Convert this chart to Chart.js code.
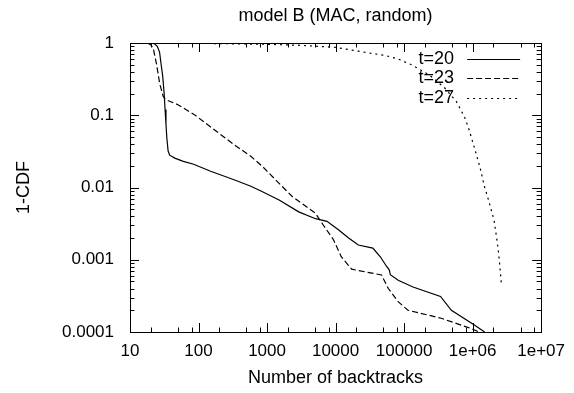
<!DOCTYPE html>
<html><head><meta charset="utf-8">
<script src="https://cdn.jsdelivr.net/npm/chart.js@4.4.0/dist/chart.umd.min.js"></script>
<style>html,body{margin:0;padding:0;background:#fff;} canvas{display:block;}</style>
</head><body>
<canvas id="c" width="574" height="393"></canvas>
<script>
const titleText = 'model B (MAC, random)';
const xAxisTitle = 'Number of backtracks';
const yAxisTitle = '1-CDF';
const seriesLabels = ['t=20', 't=23', 't=27'];
const xTickValues = [10, 100, 1000, 10000, 100000, 1e6, 1e7];
const xTickLabels = ['10', '100', '1000', '10000', '100000', '1e+06', '1e+07'];
const yTickValues = [0.0001, 0.001, 0.01, 0.1, 1];
const yTickLabels = ['0.0001', '0.001', '0.01', '0.1', '1'];

const t20X = [10, 20, 23, 25, 27, 28.5, 30, 31.5, 32.5, 33.5, 34.5, 36, 38, 45, 60, 85, 150, 330, 580, 800, 1500, 2900, 5100, 7500, 11000, 15500, 21500, 35000, 45000, 55000, 61000, 63000, 82000, 135000, 340000, 490000, 1.06e6, 1.5e6];
const t20Y = [1, 1, 0.97, 0.9, 0.75, 0.5, 0.35, 0.2, 0.12, 0.075, 0.048, 0.032, 0.028, 0.0255, 0.023, 0.021, 0.0168, 0.0128, 0.0104, 0.009, 0.0067, 0.0046, 0.0037, 0.0034, 0.0026, 0.002, 0.0016, 0.00145, 0.0011, 0.00082, 0.00072, 0.00062, 0.00052, 0.00042, 0.00031, 0.0002, 0.000125, 0.0001];

const t23X = [10, 18, 20, 21.8, 24.4, 27.2, 30.4, 33, 50, 87, 170, 333, 580, 855, 1340, 2000, 2330, 5080, 6350, 9360, 12100, 17200, 46900, 58600, 81800, 114000, 348000, 944000, 1.25e6];
const t23Y = [1, 1, 0.95, 0.85, 0.51, 0.27, 0.185, 0.165, 0.14, 0.102, 0.063, 0.039, 0.027, 0.0196, 0.0127, 0.0087, 0.0075, 0.0044, 0.0032, 0.00188, 0.0011, 0.00074, 0.000615, 0.000403, 0.000263, 0.0002, 0.000155, 0.000112, 0.0001];

const t27X = [10, 100, 1000, 3000, 10000, 21500, 54000, 82000, 128000, 235000, 390000, 580000, 760000, 880000, 1.12e6, 1.3e6, 1.48e6, 1.7e6, 2.06e6, 2.3e6, 2.45e6, 2.63e6];
const t27Y = [1, 0.99, 0.96, 0.93, 0.87, 0.77, 0.67, 0.6, 0.5, 0.36, 0.24, 0.155, 0.095, 0.065, 0.03, 0.018, 0.0105, 0.0068, 0.0035, 0.0017, 0.001, 0.00046];

const toPoints = (xs, ys) => xs.map((x, i) => ({x: x, y: ys[i]}));

const FONT = '"Liberation Sans", Arial, Helvetica, sans-serif';
Chart.defaults.font.family = FONT;
Chart.defaults.color = '#000';

const bgPlugin = {
  id: 'bg',
  beforeDraw(chart) {
    const ctx = chart.ctx;
    ctx.save();
    ctx.fillStyle = '#fff';
    ctx.fillRect(0, 0, chart.width, chart.height);
    ctx.restore();
  }
};

const framePlugin = {
  id: 'frame',
  afterDatasetsDraw(chart) {
    const ctx = chart.ctx;
    const a = chart.chartArea;
    const xs = chart.scales.x, ys = chart.scales.y;
    ctx.save();
    ctx.strokeStyle = '#000';
    ctx.lineWidth = 1;
    ctx.setLineDash([]);
    ctx.beginPath();
    // x ticks (major and minor at 2,5,8)
    xTickValues.forEach((v, i) => {
      const px = Math.round(xs.getPixelForValue(v)) + 0.5;
      ctx.moveTo(px, a.bottom); ctx.lineTo(px, a.bottom - 9);
      ctx.moveTo(px, a.top); ctx.lineTo(px, a.top + 9);
      if (i < xTickValues.length - 1) {
        [2, 5, 8].forEach(m => {
          const p = Math.round(xs.getPixelForValue(v * m)) + 0.5;
          ctx.moveTo(p, a.bottom); ctx.lineTo(p, a.bottom - 4.5);
          ctx.moveTo(p, a.top); ctx.lineTo(p, a.top + 4.5);
        });
      }
    });
    yTickValues.forEach((v, i) => {
      const py = Math.round(ys.getPixelForValue(v)) + 0.5;
      ctx.moveTo(a.left, py); ctx.lineTo(a.left + 9, py);
      ctx.moveTo(a.right, py); ctx.lineTo(a.right - 9, py);
      if (i < yTickValues.length - 1) {
        [2, 3, 4, 5, 6, 7, 8, 9].forEach(m => {
          const p = Math.round(ys.getPixelForValue(v * m)) + 0.5;
          ctx.moveTo(a.left, p); ctx.lineTo(a.left + 4.5, p);
          ctx.moveTo(a.right, p); ctx.lineTo(a.right - 4.5, p);
        });
      }
    });
    ctx.stroke();
    ctx.strokeRect(Math.round(a.left) + 0.5, Math.round(a.top) + 0.5, Math.round(a.right - a.left), Math.round(a.bottom - a.top));

    // legend (gnuplot style: text then sample)
    ctx.font = '18px ' + FONT;
    ctx.textAlign = 'right';
    ctx.textBaseline = 'middle';
    ctx.fillStyle = '#000';
    chart.data.datasets.forEach((ds, i) => {
      const y = a.top + 16 + i * 19.3;
      ctx.fillText(ds.label, a.right - 87, y);
      ctx.beginPath();
      ctx.setLineDash(ds.borderDash || []);
      ctx.lineWidth = ds.borderWidth;
      ctx.moveTo(a.right - 74, Math.round(y) + 0.5);
      ctx.lineTo(a.right - 21, Math.round(y) + 0.5);
      ctx.stroke();
    });
    ctx.restore();
  }
};

new Chart(document.getElementById('c'), {
  type: 'line',
  data: {
    datasets: [
      {label: seriesLabels[0], data: toPoints(t20X, t20Y), borderColor: '#000', borderWidth: 1.2, borderDash: [], pointRadius: 0, tension: 0, fill: false},
      {label: seriesLabels[1], data: toPoints(t23X, t23Y), borderColor: '#000', borderWidth: 1.2, borderDash: [6, 3], pointRadius: 0, tension: 0, fill: false},
      {label: seriesLabels[2], data: toPoints(t27X, t27Y), borderColor: '#000', borderWidth: 1.2, borderDash: [2, 4], pointRadius: 0, tension: 0, fill: false}
    ]
  },
  options: {
    responsive: false,
    animation: false,
    devicePixelRatio: 1,
    layout: {padding: {left: 0, right: 30, top: 0, bottom: 0}},
    plugins: {
      legend: {display: false},
      tooltip: {enabled: false},
      title: {
        display: true, text: titleText, fullSize: false,
        font: {size: 18, weight: 'normal', family: FONT},
        color: '#000',
        padding: {top: 5, bottom: 16.4}
      }
    },
    scales: {
      x: {
        type: 'logarithmic', min: 10, max: 1e7,
        grid: {display: false, drawTicks: false},
        border: {display: false},
        afterBuildTicks: s => { s.ticks = xTickValues.map(v => ({value: v})); },
        afterFit: s => { s.height = 61; },
        ticks: {
          autoSkip: false, maxRotation: 0, padding: 9,
          font: {size: 17, family: FONT}, color: '#000',
          callback: (v) => { const i = xTickValues.indexOf(v); return i >= 0 ? xTickLabels[i] : ''; }
        },
        title: {display: true, text: xAxisTitle, font: {size: 18, family: FONT}, color: '#000', padding: {top: 0, bottom: 4}}
      },
      y: {
        type: 'logarithmic', min: 0.0001, max: 1,
        grid: {display: false, drawTicks: false},
        border: {display: false},
        afterBuildTicks: s => { s.ticks = yTickValues.map(v => ({value: v})); },
        afterFit: s => { s.width = 130; },
        ticks: {
          autoSkip: false, padding: 16,
          font: {size: 17, family: FONT}, color: '#000',
          callback: (v) => { const i = yTickValues.indexOf(v); return i >= 0 ? yTickLabels[i] : ''; }
        },
        title: {display: true, text: yAxisTitle, font: {size: 18, family: FONT}, color: '#000', padding: {top: 13, bottom: 0}}
      }
    }
  },
  plugins: [bgPlugin, framePlugin]
});
</script>
</body></html>
